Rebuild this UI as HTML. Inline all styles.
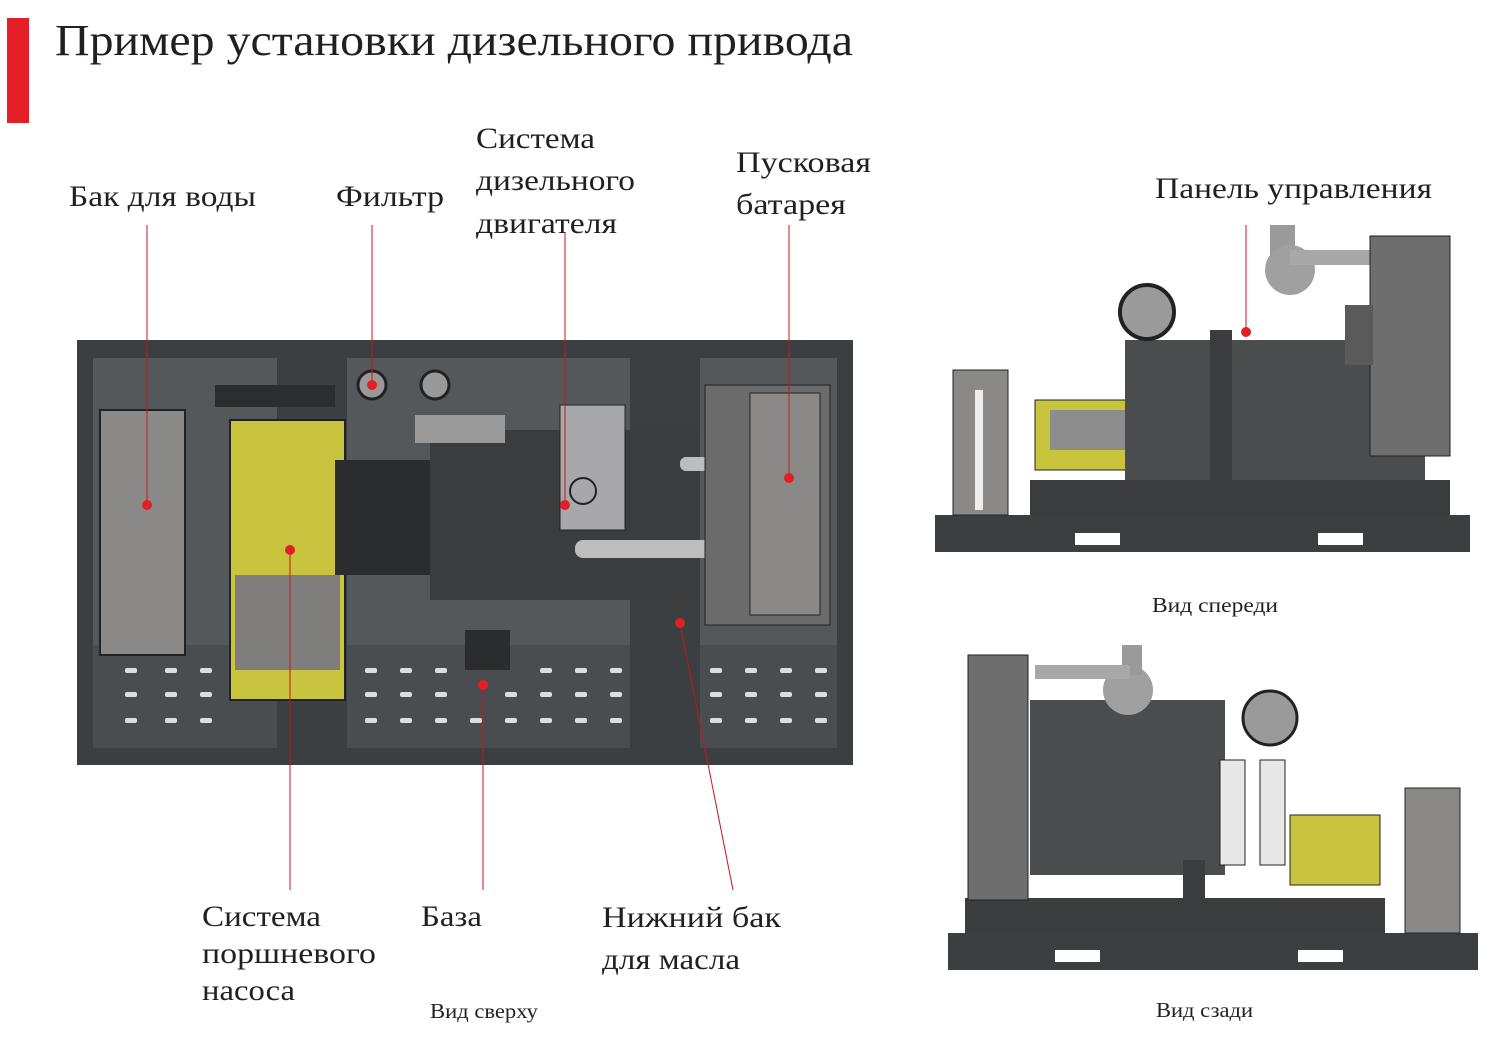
<!DOCTYPE html>
<html><head><meta charset="utf-8"><style>
body{margin:0;background:#fff;}
svg{display:block;}
text{font-family:"Liberation Serif","DejaVu Serif",serif;fill:#231f20;}
</style></head><body>
<svg width="1497" height="1050" viewBox="0 0 1497 1050" xmlns="http://www.w3.org/2000/svg">
<rect x="7" y="18" width="22" height="105" fill="#e31e24"/>
<text x="55" y="55" font-size="44" textLength="798" lengthAdjust="spacingAndGlyphs">Пример установки дизельного привода</text>

<g font-size="30">
<text x="69" y="206" textLength="187" lengthAdjust="spacingAndGlyphs">Бак для воды</text>
<text x="336" y="206" textLength="108" lengthAdjust="spacingAndGlyphs">Фильтр</text>
<text x="476" y="148" textLength="119" lengthAdjust="spacingAndGlyphs">Система</text>
<text x="476" y="190" textLength="159" lengthAdjust="spacingAndGlyphs">дизельного</text>
<text x="476" y="233" textLength="141" lengthAdjust="spacingAndGlyphs">двигателя</text>
<text x="736" y="172" textLength="135" lengthAdjust="spacingAndGlyphs">Пусковая</text>
<text x="736" y="214" textLength="110" lengthAdjust="spacingAndGlyphs">батарея</text>
<text x="1155" y="198" textLength="277" lengthAdjust="spacingAndGlyphs">Панель управления</text>
<text x="202" y="926" textLength="119" lengthAdjust="spacingAndGlyphs">Система</text>
<text x="202" y="963" textLength="174" lengthAdjust="spacingAndGlyphs">поршневого</text>
<text x="202" y="1000" textLength="93" lengthAdjust="spacingAndGlyphs">насоса</text>
<text x="421" y="926" textLength="61" lengthAdjust="spacingAndGlyphs">База</text>
<text x="602" y="927" textLength="179" lengthAdjust="spacingAndGlyphs">Нижний бак</text>
<text x="602" y="969" textLength="138" lengthAdjust="spacingAndGlyphs">для масла</text>
</g>
<g font-size="21">
<text x="430" y="1018" textLength="108" lengthAdjust="spacingAndGlyphs">Вид сверху</text>
<text x="1152" y="612" textLength="126" lengthAdjust="spacingAndGlyphs">Вид спереди</text>
<text x="1156" y="1017" textLength="97" lengthAdjust="spacingAndGlyphs">Вид сзади</text>
</g>

<!-- TOP VIEW -->
<rect x="77" y="340" width="776" height="425" fill="#3c3f42"/>
<rect x="93" y="358" width="744" height="390" fill="#55585b"/>
<rect x="93" y="645" width="744" height="103" fill="#4a4d50"/>
<rect x="277" y="358" width="70" height="390" fill="#3c3f42"/>
<rect x="630" y="358" width="70" height="390" fill="#3c3f42"/>
<rect x="100" y="410" width="85" height="245" fill="#8b8988" stroke="#222" stroke-width="2"/>
<rect x="215" y="385" width="120" height="22" fill="#2b2d2f"/>
<rect x="230" y="420" width="115" height="280" fill="#c8c43e" stroke="#222" stroke-width="2"/>
<rect x="235" y="575" width="105" height="95" fill="#7f7e7c"/>
<rect x="335" y="460" width="100" height="115" fill="#2a2c2e"/>
<rect x="430" y="430" width="270" height="170" fill="#3a3c3e"/>
<rect x="415" y="415" width="90" height="28" fill="#9a9a9a"/>
<rect x="560" y="405" width="65" height="125" fill="#a8a7a9" stroke="#222"/>
<circle cx="583" cy="491" r="13" fill="none" stroke="#222" stroke-width="2"/>
<rect x="575" y="540" width="160" height="18" fill="#bdbdbd" rx="8"/>
<rect x="680" y="457" width="75" height="14" fill="#bdbdbd" rx="6"/>
<rect x="705" y="385" width="125" height="240" fill="#6b6b6b" stroke="#222"/>
<rect x="750" y="393" width="70" height="222" fill="#8b8988" stroke="#222"/>
<rect x="465" y="630" width="45" height="40" fill="#2a2c2e"/>
<circle cx="372" cy="385" r="14" fill="#999" stroke="#222" stroke-width="3"/>
<circle cx="435" cy="385" r="14" fill="#999" stroke="#222" stroke-width="3"/>
<g fill="#ddd">
<rect x="125" y="668" width="12" height="5" rx="2"/><rect x="165" y="668" width="12" height="5" rx="2"/><rect x="200" y="668" width="12" height="5" rx="2"/>
<rect x="125" y="692" width="12" height="5" rx="2"/><rect x="165" y="692" width="12" height="5" rx="2"/><rect x="200" y="692" width="12" height="5" rx="2"/>
<rect x="125" y="718" width="12" height="5" rx="2"/><rect x="165" y="718" width="12" height="5" rx="2"/><rect x="200" y="718" width="12" height="5" rx="2"/>
<rect x="365" y="668" width="12" height="5" rx="2"/><rect x="400" y="668" width="12" height="5" rx="2"/><rect x="435" y="668" width="12" height="5" rx="2"/><rect x="540" y="668" width="12" height="5" rx="2"/><rect x="575" y="668" width="12" height="5" rx="2"/><rect x="610" y="668" width="12" height="5" rx="2"/>
<rect x="365" y="692" width="12" height="5" rx="2"/><rect x="400" y="692" width="12" height="5" rx="2"/><rect x="435" y="692" width="12" height="5" rx="2"/><rect x="505" y="692" width="12" height="5" rx="2"/><rect x="540" y="692" width="12" height="5" rx="2"/><rect x="575" y="692" width="12" height="5" rx="2"/><rect x="610" y="692" width="12" height="5" rx="2"/>
<rect x="365" y="718" width="12" height="5" rx="2"/><rect x="400" y="718" width="12" height="5" rx="2"/><rect x="435" y="718" width="12" height="5" rx="2"/><rect x="470" y="718" width="12" height="5" rx="2"/><rect x="505" y="718" width="12" height="5" rx="2"/><rect x="540" y="718" width="12" height="5" rx="2"/><rect x="575" y="718" width="12" height="5" rx="2"/><rect x="610" y="718" width="12" height="5" rx="2"/>
<rect x="710" y="668" width="12" height="5" rx="2"/><rect x="745" y="668" width="12" height="5" rx="2"/><rect x="780" y="668" width="12" height="5" rx="2"/><rect x="815" y="668" width="12" height="5" rx="2"/>
<rect x="710" y="692" width="12" height="5" rx="2"/><rect x="745" y="692" width="12" height="5" rx="2"/><rect x="780" y="692" width="12" height="5" rx="2"/><rect x="815" y="692" width="12" height="5" rx="2"/>
<rect x="710" y="718" width="12" height="5" rx="2"/><rect x="745" y="718" width="12" height="5" rx="2"/><rect x="780" y="718" width="12" height="5" rx="2"/><rect x="815" y="718" width="12" height="5" rx="2"/>
</g>

<!-- FRONT VIEW -->
<rect x="935" y="515" width="535" height="37" fill="#3c3f42"/>
<rect x="1075" y="533" width="45" height="12" fill="#fff"/><rect x="1318" y="533" width="45" height="12" fill="#fff"/>
<rect x="1030" y="480" width="420" height="35" fill="#3a3c3e"/>
<rect x="953" y="370" width="55" height="145" fill="#8b8988" stroke="#222"/>
<rect x="975" y="390" width="8" height="120" fill="#eee"/>
<rect x="1035" y="400" width="95" height="70" fill="#c8c43e" stroke="#222"/>
<rect x="1050" y="410" width="75" height="40" fill="#8d8d8d"/>
<rect x="1125" y="340" width="300" height="140" fill="#4a4c4e"/>
<circle cx="1147" cy="312" r="27" fill="#9a9a9a" stroke="#222" stroke-width="4"/>
<rect x="1210" y="330" width="22" height="185" fill="#3a3c3e"/>
<rect x="1270" y="225" width="25" height="50" fill="#9a9a9a"/>
<circle cx="1290" cy="270" r="25" fill="#a0a0a0"/>
<rect x="1290" y="250" width="100" height="15" fill="#a8a8a8"/>
<rect x="1370" y="236" width="80" height="220" fill="#6e6e6e" stroke="#222"/>
<rect x="1345" y="305" width="28" height="60" fill="#5a5a5a"/>

<!-- REAR VIEW -->
<rect x="948" y="933" width="530" height="37" fill="#3c3f42"/>
<rect x="1055" y="950" width="45" height="12" fill="#fff"/><rect x="1298" y="950" width="45" height="12" fill="#fff"/>
<rect x="965" y="898" width="420" height="35" fill="#3a3c3e"/>
<rect x="968" y="655" width="60" height="245" fill="#6e6e6e" stroke="#222"/>
<rect x="1030" y="700" width="195" height="175" fill="#4a4c4e"/>
<circle cx="1128" cy="690" r="25" fill="#a0a0a0"/>
<rect x="1122" y="645" width="20" height="30" fill="#9a9a9a"/>
<rect x="1035" y="665" width="95" height="14" fill="#a8a8a8"/>
<circle cx="1270" cy="718" r="27" fill="#9a9a9a" stroke="#222" stroke-width="3"/>
<rect x="1220" y="760" width="25" height="105" fill="#e8e8e8" stroke="#222"/>
<rect x="1260" y="760" width="25" height="105" fill="#e8e8e8" stroke="#222"/>
<rect x="1290" y="815" width="90" height="70" fill="#c8c43e" stroke="#222"/>
<rect x="1405" y="788" width="55" height="145" fill="#8b8988" stroke="#222"/>
<rect x="1183" y="860" width="22" height="40" fill="#3a3c3e"/>

<!-- leader lines -->
<g stroke="#c4161c" stroke-width="1" fill="none">
<line x1="147" y1="225" x2="147" y2="505"/>
<line x1="372" y1="225" x2="372" y2="385"/>
<line x1="565" y1="233" x2="565" y2="505"/>
<line x1="789" y1="225" x2="789" y2="478"/>
<line x1="290" y1="550" x2="290" y2="890"/>
<line x1="483" y1="685" x2="483" y2="890"/>
<line x1="680" y1="623" x2="733" y2="890"/>
<line x1="1246" y1="225" x2="1246" y2="330"/>
</g>
<g fill="#e31e24">
<circle cx="147" cy="505" r="5"/><circle cx="372" cy="385" r="5"/><circle cx="565" cy="505" r="5"/><circle cx="789" cy="478" r="5"/>
<circle cx="290" cy="550" r="5"/><circle cx="483" cy="685" r="5"/><circle cx="680" cy="623" r="5"/><circle cx="1246" cy="332" r="5"/>
</g>
</svg>
</body></html>
